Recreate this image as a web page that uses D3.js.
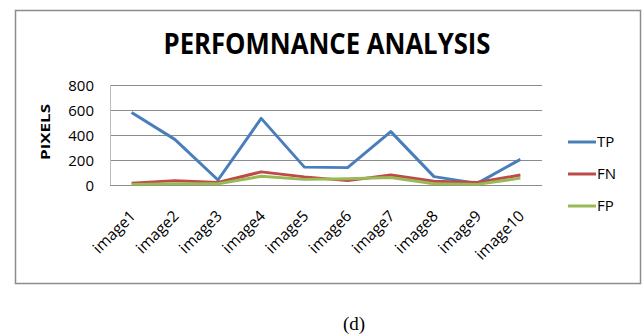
<!DOCTYPE html>
<html><head><meta charset="utf-8">
<script src="https://cdn.jsdelivr.net/npm/d3@7/dist/d3.min.js"></script>
<style>body{margin:0;background:#fff}svg{display:block}</style>
</head><body>
<script>
const categories = ["image1","image2","image3","image4","image5","image6","image7","image8","image9","image10"];
const tpValues = [580, 365, 40, 533, 143, 139, 427, 67, 13, 205];
const fnValues = [15, 35, 20, 105, 65, 35, 80, 30, 20, 80];
const fpValues = [5, 10, 10, 70, 45, 50, 60, 10, 5, 55];
const yTicks = [0, 200, 400, 600, 800];
const seriesNames = ["TP", "FN", "FP"];
const seriesColors = ["#4A7EBB", "#BE4B48", "#98B954"];
const series = [tpValues, fnValues, fpValues];

const W = 643, H = 336;
const svg = d3.select("body").append("svg").attr("width", W).attr("height", H);
const font = "'Open Sans', 'DejaVu Sans Condensed', sans-serif";

svg.append("rect").attr("x", 15.5).attr("y", 10.5).attr("width", 625).attr("height", 273)
  .attr("fill", "#fff").attr("stroke", "#8c8c8c").attr("stroke-width", 1.5);

svg.append("text").attr("x", 327).attr("y", 54).attr("text-anchor", "middle")
  .attr("font-family", font).attr("font-weight", "bold").attr("font-size", 28)
  .attr("textLength", 327).attr("lengthAdjust", "spacingAndGlyphs")
  .text("PERFOMNANCE ANALYSIS");

const x = d3.scaleBand().domain(categories).range([110, 542]);
const y = d3.scaleLinear().domain([0, 800]).range([185, 85]);

// gridlines
svg.append("g").selectAll("line").data(yTicks).join("line")
  .attr("x1", 110).attr("x2", 542).attr("y1", d => y(d) + 0.5).attr("y2", d => y(d) + 0.5)
  .attr("stroke", "#8c8c8c").attr("stroke-width", 1);
svg.append("line").attr("x1", 110.5).attr("x2", 110.5).attr("y1", 85).attr("y2", 185)
  .attr("stroke", "#bdbdbd");

// y axis labels
const yAxis = d3.axisLeft(y).tickValues(yTicks).tickSize(0).tickPadding(0);
const ya = svg.append("g").attr("transform", "translate(94,0)").call(yAxis);
ya.select(".domain").remove();
ya.selectAll("text").attr("font-family", font).attr("font-size", 15).attr("fill", "#000")
  .attr("dy", "0.36em");

svg.append("text").attr("transform", "translate(50,132) rotate(-90)")
  .attr("text-anchor", "middle").attr("font-family", font)
  .attr("font-weight", "bold").attr("font-size", 13)
  .attr("textLength", 56).attr("lengthAdjust", "spacingAndGlyphs").text("PIXELS");

// x axis labels
const xAxis = d3.axisBottom(x).tickSize(0).tickPadding(0);
const xa = svg.append("g").attr("transform", "translate(0,185)").call(xAxis);
xa.select(".domain").remove();
xa.selectAll("text").attr("font-family", font).attr("font-size", 15.5).attr("fill", "#000")
  .attr("text-anchor", "end").attr("dy", 0)
  .attr("transform", "translate(5,32) rotate(-45)");

// lines
const line = d3.line().x((d, i) => x(categories[i]) + x.bandwidth() / 2).y(d => y(d));
series.forEach((s, k) => {
  svg.append("path").datum(s).attr("d", line).attr("fill", "none")
    .attr("stroke", seriesColors[k]).attr("stroke-width", 3).attr("stroke-linejoin", "round");
});

// legend
const lg = svg.append("g");
seriesNames.forEach((n, k) => {
  const yy = 142 + k * 32;
  lg.append("line").attr("x1", 568).attr("x2", 596).attr("y1", yy).attr("y2", yy)
    .attr("stroke", seriesColors[k]).attr("stroke-width", 3);
  lg.append("text").attr("x", 597).attr("y", yy).attr("dy", "0.36em")
    .attr("font-family", font).attr("font-size", 15).text(n);
});

svg.append("text").attr("x", 354).attr("y", 330).attr("text-anchor", "middle")
  .attr("font-family", "'Liberation Serif', serif").attr("font-size", 19).text("(d)");
</script>
</body></html>
